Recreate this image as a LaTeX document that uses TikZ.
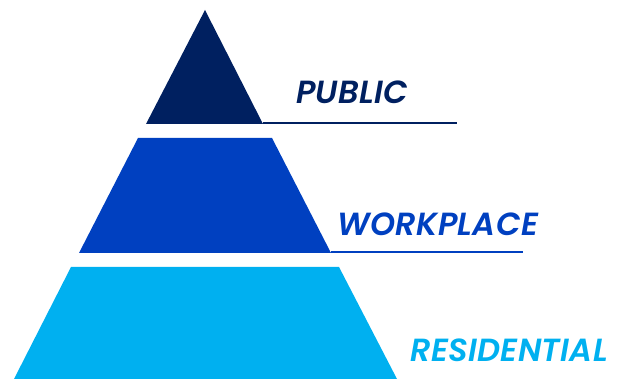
\documentclass[tikz,border=0pt]{standalone}
\usepackage{fontspec}
\newfontfamily\tierfont{Poppins}[BoldItalicFont={Poppins SemiBold Italic}, LetterSpace=1]
\usepackage{tikz}
\usetikzlibrary{positioning}
\definecolor{pubnavy}{RGB}{0, 32, 96}
\definecolor{workblue}{RGB}{0, 64, 192}
\definecolor{resblue}{RGB}{0, 176, 240}

\begin{document}
\begin{tikzpicture}[x=1pt, y=1pt,
    lbl/.style={font=\tierfont\bfseries\itshape\fontsize{32}{32}\selectfont,
                anchor=base west, inner sep=0pt},
    rule/.style={line width=2pt}]
  \useasboundingbox (0,0) rectangle (617,379);
  % Tiers of the pyramid
  \fill[pubnavy]  (205,369) -- (263,255) -- (146,255) -- cycle;
  \fill[workblue] (138,241) -- (272,241) -- (331,126) -- (79,126) -- cycle;
  \fill[resblue]  (71,112) -- (339,112) -- (397,0) -- (14,0) -- cycle;
  % Rules under the labels
  \coordinate (pubA) at (263,256);
  \coordinate (pubB) at (457,256);
  \coordinate (workA) at (331,127);
  \coordinate (workB) at (523,127);
  \draw[rule, pubnavy] (pubA) -- (pubB);
  \draw[rule, workblue] (workA) -- (workB);
  % Labels
  \node[lbl, pubnavy]  (public)      at (296,275) {PUBLIC};
  \node[lbl, workblue] (workplace)   at (337,143) {WORKPLACE};
  \node[lbl, resblue]  (residential) at (410,17)  {RESIDENTIAL};
\end{tikzpicture}
\end{document}
